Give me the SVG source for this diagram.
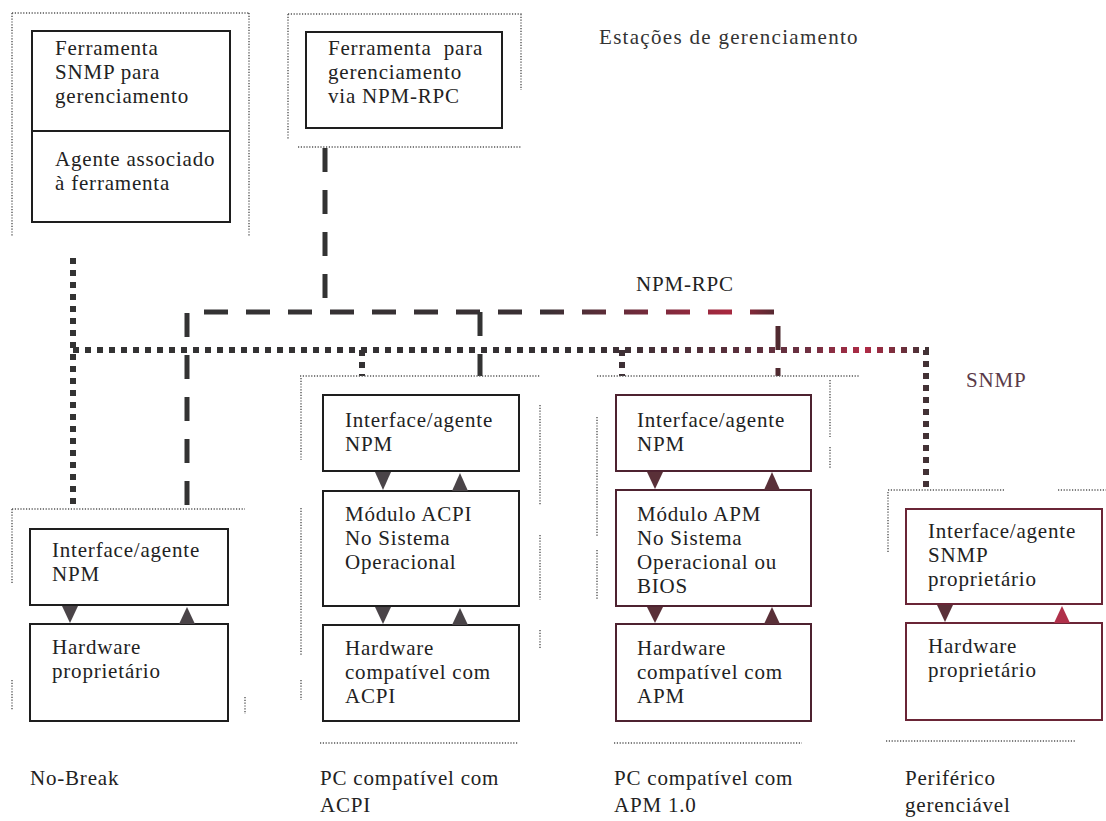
<svg xmlns="http://www.w3.org/2000/svg" width="1106" height="821" viewBox="0 0 1106 821">
<defs>
<style>
.box{fill:#fff;stroke:#1e1e1e;stroke-width:2}
.boxr{fill:#fff;stroke:#4e2230;stroke-width:2}
.boxp{fill:#fff;stroke:#6a2536;stroke-width:2}
.t{font-family:"Liberation Serif","Times New Roman",serif;font-size:21px;letter-spacing:0.8px;fill:#222}
.grp{fill:none;stroke:#555;stroke-width:1.4;stroke-dasharray:1.2 1.6}
.dash{fill:none;stroke:url(#gDash);stroke-width:5;stroke-dasharray:24 18}
.dashv{fill:none;stroke:#333;stroke-width:5;stroke-dasharray:24 18}
.dot{fill:none;stroke:url(#gDot);stroke-width:6;stroke-dasharray:6 6}
.tri{fill:#4a4448}
.trir{fill:#5a3038}
</style>
<linearGradient id="gDash" gradientUnits="userSpaceOnUse" x1="180" y1="0" x2="790" y2="0">
<stop offset="0" stop-color="#333"/>
<stop offset="0.6" stop-color="#3a3034"/>
<stop offset="0.78" stop-color="#7a2a3c"/>
<stop offset="0.9" stop-color="#a8283f"/>
<stop offset="1" stop-color="#3a2a2c"/>
</linearGradient>
<linearGradient id="gDot" gradientUnits="userSpaceOnUse" x1="60" y1="0" x2="935" y2="0">
<stop offset="0" stop-color="#333"/>
<stop offset="0.6" stop-color="#353033"/>
<stop offset="0.85" stop-color="#6a3040"/>
<stop offset="0.92" stop-color="#b02a45"/>
<stop offset="1" stop-color="#333"/>
</linearGradient>
</defs>
<rect x="0" y="0" width="1106" height="821" fill="#fff"/>

<g id="connectors">
<path class="dot" d="M73 258 V505"/>
<path class="dot" d="M73 350 H926 V490"/>
<path class="dot" d="M362 350 V376"/>
<path class="dot" d="M622 350 V376"/>
<path class="dash" d="M187 505 V312 H778 V376"/>
<path class="dashv" d="M325 148 V312"/>
<path class="dashv" d="M480 312 V376"/>
</g>

<g id="station-snmp">
<path class="grp" d="M12 13 H250 M12 13 V236 M249 13 V236"/>
<rect class="box" x="32" y="31" width="198" height="191"/>
<line x1="32" y1="131" x2="230" y2="131" stroke="#1e1e1e" stroke-width="2"/>
<text class="t" x="55" y="55">Ferramenta</text>
<text class="t" x="55" y="79">SNMP para</text>
<text class="t" x="55" y="103">gerenciamento</text>
<text class="t" x="55" y="166">Agente associado</text>
<text class="t" x="55" y="190">à ferramenta</text>
</g>

<g id="station-rpc">
<path class="grp" d="M288 14 H522 M288 14 V140 M521 14 V90 M298 147 H522"/>
<rect class="box" x="306" y="32" width="196" height="96"/>
<text class="t" x="328" y="55" style="white-space:pre">Ferramenta  para</text>
<text class="t" x="328" y="79">gerenciamento</text>
<text class="t" x="328" y="103">via NPM-RPC</text>
</g>

<g id="nobreak">
<path class="grp" d="M12 509 H245 M12 509 V584 M12 680 V710 M245 697 V714"/>
<rect class="box" x="30" y="529" width="198" height="76"/>
<rect class="box" x="30" y="624" width="198" height="97"/>
<polygon class="tri" points="62,606 78,606 70,623"/>
<polygon class="tri" points="179,624 195,624 187,607"/>
<text class="t" x="52" y="557">Interface/agente</text>
<text class="t" x="52" y="581">NPM</text>
<text class="t" x="52" y="654">Hardware</text>
<text class="t" x="52" y="678">proprietário</text>
</g>

<g id="pc-acpi">
<path class="grp" d="M300 376 H540 M301 378 V460 M301 508 V655 M301 680 V700 M540 405 V505 M540 535 V600 M540 630 V648 M320 743 H518"/>
<rect class="box" x="323" y="395" width="196" height="76"/>
<rect class="box" x="323" y="491" width="196" height="115"/>
<rect class="box" x="323" y="625" width="196" height="96"/>
<polygon class="tri" points="375,472 391,472 383,490"/>
<polygon class="tri" points="452,491 468,491 460,473"/>
<polygon class="tri" points="375,607 391,607 383,624"/>
<polygon class="tri" points="452,625 468,625 460,608"/>
<text class="t" x="345" y="427">Interface/agente</text>
<text class="t" x="345" y="451">NPM</text>
<text class="t" x="345" y="521">Módulo ACPI</text>
<text class="t" x="345" y="545">No Sistema</text>
<text class="t" x="345" y="569">Operacional</text>
<text class="t" x="345" y="655">Hardware</text>
<text class="t" x="345" y="679">compatível com</text>
<text class="t" x="345" y="703">ACPI</text>
</g>

<g id="pc-apm">
<path class="grp" d="M597 376 H860 M597 417 V537 M597 550 V600 M830 380 V437 M830 447 V468 M614 743 H802"/>
<rect class="boxr" x="616" y="395" width="195" height="76"/>
<rect class="boxr" x="616" y="490" width="195" height="116"/>
<rect class="boxr" x="616" y="624" width="195" height="97"/>
<polygon class="trir" points="647,472 663,472 655,489"/>
<polygon class="trir" points="764,490 780,490 772,472"/>
<polygon class="trir" points="647,607 663,607 655,623"/>
<polygon class="trir" points="764,624 780,624 772,607"/>
<text class="t" x="637" y="427">Interface/agente</text>
<text class="t" x="637" y="451">NPM</text>
<text class="t" x="637" y="521">Módulo APM</text>
<text class="t" x="637" y="545">No Sistema</text>
<text class="t" x="637" y="569">Operacional ou</text>
<text class="t" x="637" y="593">BIOS</text>
<text class="t" x="637" y="655">Hardware</text>
<text class="t" x="637" y="679">compatível com</text>
<text class="t" x="637" y="703">APM</text>
</g>

<g id="periferico">
<path class="grp" d="M888 490 H1005 M1058 490 H1106 M888 492 V552 M886 741 H1075"/>
<rect class="boxp" x="906" y="509" width="196" height="95"/>
<rect class="boxp" x="906" y="623" width="196" height="97"/>
<polygon class="trir" points="937,605 953,605 945,622"/>
<polygon points="1054,623 1070,623 1062,606" fill="#b0304a"/>
<text class="t" x="928" y="538">Interface/agente</text>
<text class="t" x="928" y="562">SNMP</text>
<text class="t" x="928" y="586">proprietário</text>
<text class="t" x="928" y="653">Hardware</text>
<text class="t" x="928" y="677">proprietário</text>
</g>

<g id="labels">
<text class="t" x="599" y="44" style="fill:#333;letter-spacing:1.3px">Estações de gerenciamento</text>
<text class="t" x="636" y="291">NPM-RPC</text>
<text class="t" x="966" y="387" style="fill:#5a3a48">SNMP</text>
<text class="t" x="30" y="785">No-Break</text>
<text class="t" x="320" y="785">PC compatível com</text>
<text class="t" x="320" y="812">ACPI</text>
<text class="t" x="614" y="785">PC compatível com</text>
<text class="t" x="614" y="812">APM 1.0</text>
<text class="t" x="905" y="785">Periférico</text>
<text class="t" x="905" y="812">gerenciável</text>
</g>
</svg>
